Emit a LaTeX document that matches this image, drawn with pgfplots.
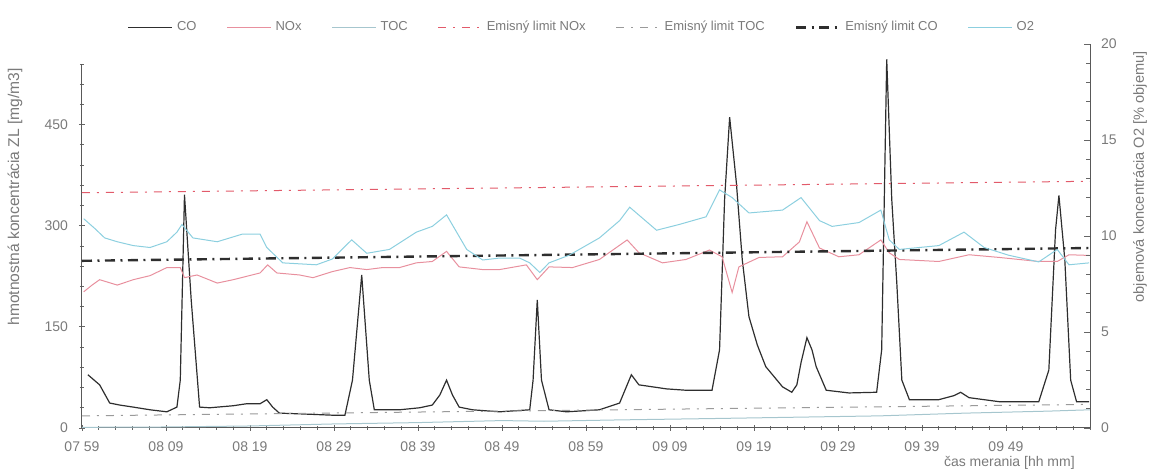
\documentclass[border=0pt]{standalone}
\usepackage{fontspec}
\setmainfont{Liberation Sans}
\usepackage{pgfplots}
\pgfplotsset{compat=1.18}
\definecolor{cCO}{HTML}{2E2E2E}
\definecolor{cNOx}{HTML}{E8909E}
\definecolor{cTOC}{HTML}{A6C6CE}
\definecolor{cO2}{HTML}{8CCFDF}
\definecolor{cNOxL}{HTML}{E25A6A}
\definecolor{cTOCL}{HTML}{9A9A9A}
\definecolor{ctext}{HTML}{7A7A7A}
\newcommand{\sz}{\fontsize{7}{8}\selectfont}
\begin{document}
\begin{tikzpicture}
\useasboundingbox (-41pt,-23.5pt) rectangle (535pt,214pt);
\begin{axis}[
  scale only axis, width=504pt, height=182pt,
  at={(0,0)}, anchor=south west,
  xmin=0, xmax=120, ymin=0, ymax=540,
  clip=false,
  axis x line=bottom, axis y line=left,
  axis line style={-, draw=black!65, line width=0.5pt},
  xtick={0,10,...,110},
  xticklabels={07 59,08 09,08 19,08 29,08 39,08 49,08 59,09 09,09 19,09 29,09 39,09 49},
  minor xtick={2,4,...,120},
  ytick={0,150,300,450},
  minor ytick={30,60,...,540},
  tick align=center,
  major tick length=3pt, minor tick length=2pt,
  tick style={draw=black!60, line width=0.4pt},
  /pgf/number format/assume math mode=true,
  tick label style={font=\sz, text=ctext},
  xticklabel style={yshift=-2pt},
  yticklabel style={xshift=-2pt},
  xlabel={čas merania [hh mm]},
  xlabel style={at={(axis description cs:0.92,-0.096)}, anchor=center, font=\sz, text=ctext},
  ylabel={hmotnostná koncentrácia ZL [mg/m3]},
  ylabel style={at={(axis description cs:-0.0665,0.635)}, anchor=center, font=\fontsize{7.8}{9}\selectfont, text=ctext},
  legend columns=-1,
  legend style={at={(axis description cs:0.497,1.10)}, anchor=center, draw=none, fill=none,
    font=\fontsize{6.5}{7}\selectfont, text=ctext,
    /tikz/every even column/.append style={column sep=13pt},
    inner sep=0pt},
  legend image code/.code={\draw[#1] (0pt,0pt) -- (22pt,0pt);},
]
% CO
\addplot[cCO, line width=0.6pt] coordinates {
(0.7,79) (2.1,64) (3.3,37) (4.5,34) (6.1,31) (8.1,27) (10.1,24) (11.3,31) (11.7,71)
(12.2,346) (13.0,190) (14.0,31) (15.2,30) (18.0,33) (19.6,36) (21.2,36) (22.0,42)
(22.7,31) (23.5,22) (25.9,21) (29.8,19) (31.3,19) (32.2,71) (33.3,227) (34.2,71)
(34.8,27) (37.8,27) (40.2,30) (41.7,34) (42.6,49) (43.4,71) (44.1,49) (44.9,31)
(46.5,27) (49.7,24) (53.3,27) (53.7,71) (54.2,190) (54.7,71) (55.6,27) (57.7,24)
(61.6,27) (64.0,37) (64.9,64) (65.4,79) (66.3,64) (69.6,58) (71.9,56) (75.0,56)
(75.9,116) (76.5,339) (77.1,461) (77.9,364) (78.6,250) (79.4,165) (80.4,123)
(81.4,91) (83.4,61) (84.5,53) (85.1,64) (85.6,97) (86.3,134) (86.9,116) (87.4,91)
(88.6,56) (91.3,52) (94.6,53) (95.2,116) (95.8,547) (96.4,339) (97.0,215)
(97.6,71) (98.5,42) (102.0,42) (103.8,48) (104.6,53) (105.6,45) (109.2,39)
(113.9,39) (115.1,86) (115.9,294) (116.3,345) (117.0,250) (117.7,71) (118.4,39)
(119.9,39)
};
\addlegendentry{CO}
% NOx
\addplot[cNOx, line width=0.5pt] coordinates {
(0.2,202) (1.2,212) (2.1,220) (4.2,212) (6.1,220) (8.1,226) (10.1,238) (11.7,238)
(12.2,223) (13.7,227) (16.1,215) (18.0,220) (21.2,230) (22.1,242) (23.2,230)
(25.9,227) (27.5,223) (29.8,232) (31.9,238) (33.9,235) (35.8,238) (37.8,238)
(39.8,245) (41.7,247) (43.4,262) (44.9,239) (47.7,235) (49.7,235) (52.9,242)
(54.2,220) (55.6,239) (58.4,238) (61.6,250) (64.9,279) (66.3,260) (69.1,245)
(71.9,250) (74.7,264) (76.2,254) (77.4,201) (78.2,239) (80.6,253) (83.4,254)
(85.4,276) (86.3,306) (87.8,267) (90.1,254) (92.5,257) (95.1,279) (96.1,260)
(97.3,250) (102.0,247) (105.6,257) (109.2,253) (113.9,247) (116.1,247)
(117.5,257) (119.9,256)
};
\addlegendentry{NOx}
% TOC
\addplot[cTOC, line width=0.5pt] coordinates {
(0,1) (10,1.5) (20,3) (30,6) (40,8) (50,11) (55,10) (64,12) (75,14) (85,16)
(95,18) (105,22) (115,25) (120,27)
};
\addlegendentry{TOC}
% limits
\addplot[cNOxL, line width=0.5pt, dash pattern=on 4pt off 3.5pt on 1pt off 3.5pt]
  coordinates {(0,349) (120,366)};
\addlegendentry{Emisný limit NOx}
\addplot[cTOCL, line width=0.5pt, dash pattern=on 4pt off 3.5pt on 1pt off 3.5pt]
  coordinates {(0,18) (120,35)};
\addlegendentry{Emisný limit TOC}
\addplot[cCO, line width=1.2pt, dash pattern=on 5pt off 2.75pt on 1pt off 2.75pt]
  coordinates {(0,248) (120,267)};
\addlegendentry{Emisný limit CO}
\addlegendimage{cO2, line width=0.5pt}
\addlegendentry{O2}
\end{axis}
\begin{axis}[
  scale only axis, width=504pt, height=192pt,
  at={(0,0)}, anchor=south west,
  xmin=0, xmax=120, ymin=0, ymax=20,
  axis y line=right, axis x line=none,
  axis line style={-, draw=black!65, line width=0.5pt},
  xtick=\empty,
  ytick={0,5,10,15,20},
  minor ytick={1,2,...,20},
  tick align=inside,
  major tick length=3pt, minor tick length=2pt,
  tick style={draw=black!60, line width=0.4pt},
  /pgf/number format/assume math mode=true,
  tick label style={font=\sz, text=ctext},
  yticklabel style={xshift=2pt},
  ylabel={objemová koncentrácia O2 [\% objemu]},
  ylabel style={at={(axis description cs:1.0496,0.654)}, anchor=center, font=\fontsize{7.3}{8.5}\selectfont, text=ctext},
]
\addplot[cO2, line width=0.5pt] coordinates {
(0.2,10.9) (1.5,10.4) (2.7,9.9) (4.2,9.7) (6.1,9.5) (8.1,9.4) (10.1,9.7) (11.3,10.2)
(11.9,10.6) (13.2,9.9) (16.1,9.7) (19.1,10.1) (21.2,10.1) (22.0,9.4) (23.9,8.6)
(27.9,8.5) (29.8,8.8) (32.1,9.8) (33.9,9.1) (36.6,9.3) (39.8,10.2) (41.7,10.5)
(43.4,11.1) (45.8,9.3) (47.7,8.75) (49.7,8.85) (52.1,8.85) (53.3,8.6) (54.5,8.1)
(55.6,8.6) (58.0,9.0) (61.6,9.9) (64.0,10.8) (65.2,11.5) (68.4,10.3) (71.1,10.6)
(74.3,11.0) (75.9,12.4) (77.4,12.0) (79.4,11.2) (83.4,11.35) (85.6,12.0)
(87.8,10.8) (89.3,10.5) (92.5,10.7) (95.1,11.35) (96.1,9.8) (97.3,9.3)
(102.0,9.5) (105.0,10.2) (107.4,9.4) (110.3,9.0) (113.9,8.65) (116.1,9.3)
(117.5,8.5) (119.9,8.6)
};
\end{axis}
\end{tikzpicture}
\end{document}
